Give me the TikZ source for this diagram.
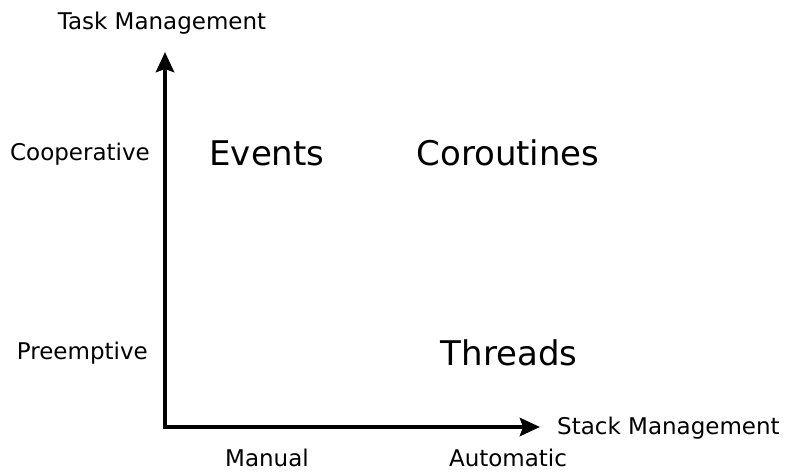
\documentclass[tikz,border=0pt]{standalone}
\usepackage{fontspec}
\setmainfont{DejaVu Sans}
\usetikzlibrary{arrows.meta}
\begin{document}
\begin{tikzpicture}[x=1pt,y=-1pt,
  small/.style={font=\fontsize{23}{26}\selectfont, inner sep=0pt, anchor=base},
  big/.style={font=\fontsize{34}{40}\selectfont, inner sep=0pt, anchor=base},
  axis/.style={line width=4.5pt, -{Stealth[length=20pt,width=18pt,inset=3pt]}}]
\useasboundingbox (0,0) rectangle (787,472);
\coordinate (origin) at (165,427);
\coordinate (ytop) at (165,52);
\coordinate (xend) at (540,427);
\draw[axis, line cap=rect] (origin) -- (ytop);
\draw[axis] (origin) -- (xend);
\node[small] (tm) at (162,29) {Task Management};
\node[small, anchor=base east] (coop) at (150,160) {Cooperative};
\node[small, anchor=base east] (pre) at (148,359) {Preemptive};
\node[small, anchor=base west] (sm) at (557,434) {Stack Management};
\node[small] (man) at (267,466) {Manual};
\node[small] (auto) at (508,466) {Automatic};
\node[big] (ev) at (267,165) {Events};
\node[big] (co) at (508,165) {Coroutines};
\node[big] (th) at (509,365) {Threads};
\end{tikzpicture}
\end{document}
